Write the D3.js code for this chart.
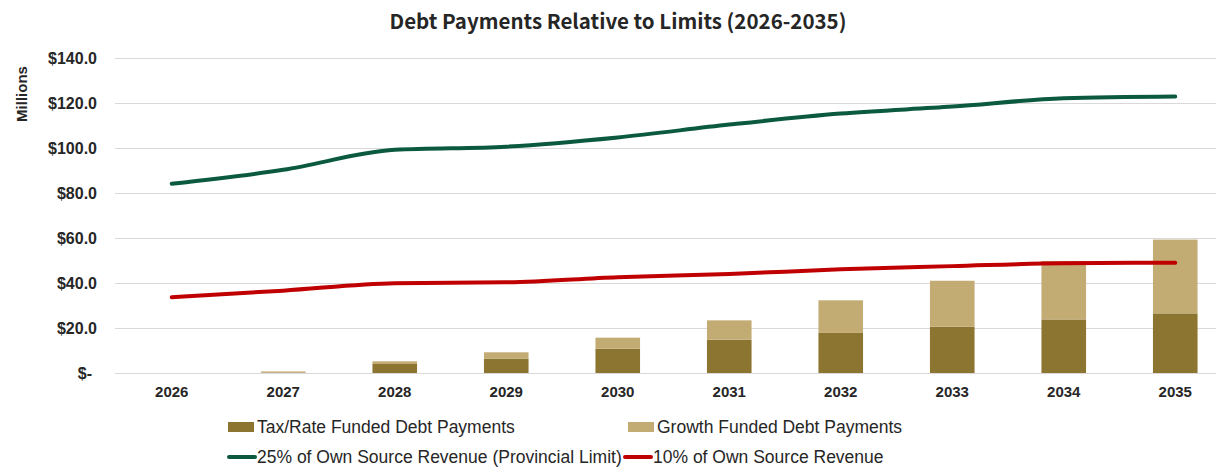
<!DOCTYPE html>
<html>
<head>
<meta charset="utf-8">
<script src="https://cdn.jsdelivr.net/npm/d3@7"></script>
<style>
  html, body { margin: 0; padding: 0; background: #fff; }
  svg { display: block; }
</style>
</head>
<body>
<div id="chart"></div>
<script>
// Chart data (millions of dollars)
var years = ['2026', '2027', '2028', '2029', '2030', '2031', '2032', '2033', '2034', '2035'];
var taxFunded = [0, 0.2, 4.0, 6.4, 10.8, 14.8, 17.8, 20.6, 23.8, 26.5];
var growthFunded = [0, 0.5, 1.2, 2.8, 4.9, 8.6, 14.5, 20.4, 26.0, 32.8];
var limit25 = [84.1, 90.3, 99.2, 100.6, 104.7, 110.4, 115.3, 118.4, 122.1, 122.9];
var limit10 = [33.7, 36.6, 39.9, 40.3, 42.6, 44.0, 46.1, 47.5, 48.8, 49.0];
var yTicks = [0, 20, 40, 60, 80, 100, 120, 140];

// Options
var width = 1216;
var height = 469;
var colors = {
  tax: '#8c7431',
  growth: '#c3ac74',
  green: '#0b5a3f',
  red: '#c00000',
  grid: '#d9d9d9',
  text: '#262626'
};

var svg = d3.select('#chart')
            .append('svg')
            .attr('width', width)
            .attr('height', height);

// Scales
var x = d3.scaleBand()
          .domain(years)
          .range([116, 1231])
          .paddingInner(0.6)
          .paddingOuter(0.3);
var xc = function (d) { return x(d) + x.bandwidth() / 2; };
var y = d3.scaleLinear()
          .domain([0, 140])
          .range([373, 58]);

// Title
svg.append('text')
   .attr('x', 618)
   .attr('y', 29)
   .attr('text-anchor', 'middle')
   .attr('font-family', '"Noto Sans CJK JP", "Noto Sans", sans-serif')
   .attr('font-weight', 'bold')
   .attr('font-size', 20.5)
   .attr('fill', colors.text)
   .text('Debt Payments Relative to Limits (2026-2035)');

// Y axis title
svg.append('text')
   .attr('transform', 'translate(27,94) rotate(-90)')
   .attr('text-anchor', 'middle')
   .attr('font-family', '"Liberation Sans", Arial, sans-serif')
   .attr('font-weight', 'bold')
   .attr('font-size', 15)
   .attr('fill', colors.text)
   .text('Millions');

// Gridlines and y labels
var yAxis = svg.append('g')
               .attr('class', 'y-axis')
               .attr('transform', 'translate(115,0)')
               .call(d3.axisLeft(y)
                       .tickValues(yTicks)
                       .tickSize(-(width - 115))
                       .tickPadding(18)
                       .tickFormat(function (d) {
                         return d === 0 ? '$-' : '$' + d.toFixed(1);
                       }));
yAxis.select('.domain').remove();
yAxis.selectAll('line')
     .attr('stroke', colors.grid);
yAxis.selectAll('text')
     .attr('font-family', '"Liberation Sans", Arial, sans-serif')
     .attr('font-weight', 'bold')
     .attr('font-size', 16)
     .attr('fill', colors.text)
     .attr('dx', function (d) { return d === 0 ? -5 : 0; });

// X labels
var xAxis = svg.append('g')
               .attr('class', 'x-axis')
               .attr('transform', 'translate(0,373)')
               .call(d3.axisBottom(x).tickSize(0).tickPadding(13));
xAxis.select('.domain').remove();
xAxis.selectAll('text')
     .attr('font-family', '"Liberation Sans", Arial, sans-serif')
     .attr('font-weight', 'bold')
     .attr('font-size', 15)
     .attr('fill', colors.text);

// Stacked bars
var table = years.map(function (d, i) {
  return { year: d, tax: taxFunded[i], growth: growthFunded[i] };
});
var stack = d3.stack().keys(['tax', 'growth'])(table);
svg.append('g')
   .attr('class', 'bars')
   .selectAll('g')
   .data(stack)
   .enter()
   .append('g')
   .attr('fill', function (d) { return colors[d.key]; })
   .selectAll('rect')
   .data(function (d) { return d; })
   .enter()
   .append('rect')
   .attr('x', function (d) { return x(d.data.year); })
   .attr('width', x.bandwidth())
   .attr('y', function (d) { return y(d[1]); })
   .attr('height', function (d) { return y(d[0]) - y(d[1]); });

// Lines
var line = d3.line()
             .x(function (d, i) { return xc(years[i]); })
             .y(function (d) { return y(d); })
             .curve(d3.curveMonotoneX);
[[limit25, colors.green], [limit10, colors.red]].forEach(function (s) {
  svg.append('path')
     .datum(s[0])
     .attr('d', line)
     .attr('fill', 'none')
     .attr('stroke', s[1])
     .attr('stroke-width', 4)
     .attr('stroke-linecap', 'round');
});

// Legend
var legendItems = [
  { label: 'Tax/Rate Funded Debt Payments', color: colors.tax, type: 'rect', x: 228, y: 427 },
  { label: 'Growth Funded Debt Payments', color: colors.growth, type: 'rect', x: 628, y: 427 },
  { label: '25% of Own Source Revenue (Provincial Limit)', color: colors.green, type: 'line', x: 228, y: 457 },
  { label: '10% of Own Source Revenue', color: colors.red, type: 'line', x: 624, y: 457 }
];
var legend = svg.append('g')
                .attr('class', 'legend')
                .selectAll('g')
                .data(legendItems)
                .enter()
                .append('g')
                .attr('transform', function (d) {
                  return 'translate(' + d.x + ',' + d.y + ')';
                });
legend.filter(function (d) { return d.type === 'rect'; })
      .append('rect')
      .attr('x', 0)
      .attr('y', -5)
      .attr('width', 26)
      .attr('height', 10)
      .attr('fill', function (d) { return d.color; });
legend.filter(function (d) { return d.type === 'line'; })
      .append('line')
      .attr('x1', 1)
      .attr('x2', 27)
      .attr('stroke', function (d) { return d.color; })
      .attr('stroke-width', 4)
      .attr('stroke-linecap', 'round');
legend.append('text')
      .attr('x', 29)
      .attr('dy', '0.35em')
      .attr('font-family', '"Liberation Sans", Arial, sans-serif')
      .attr('font-size', 17.5)
      .attr('fill', colors.text)
      .text(function (d) { return d.label; });
</script>
</body>
</html>
